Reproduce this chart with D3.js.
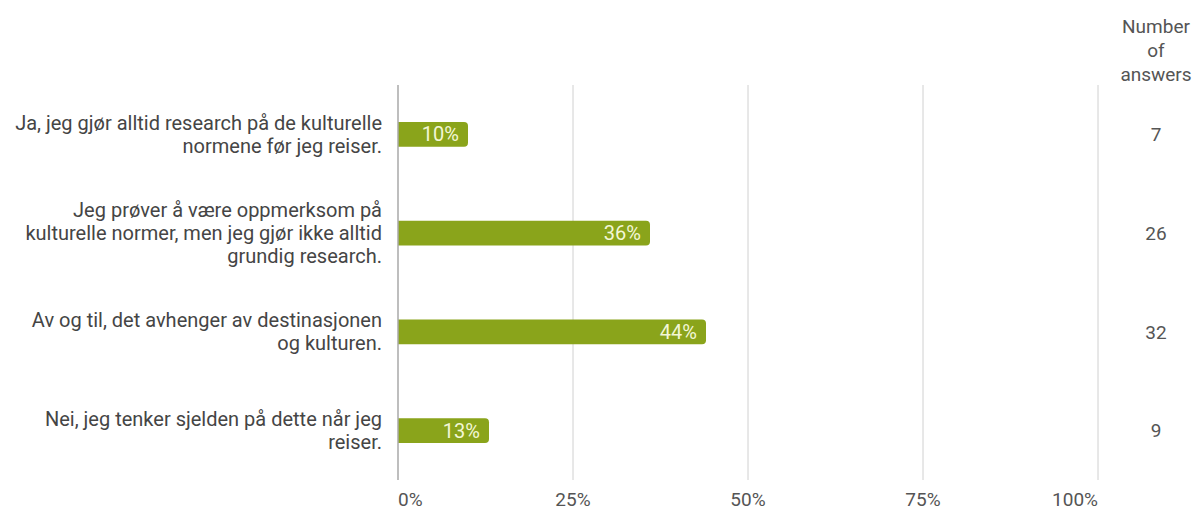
<!DOCTYPE html>
<html>
<head>
<meta charset="utf-8">
<script src="https://cdn.jsdelivr.net/npm/d3@7"></script>
<style>
  html, body { margin: 0; padding: 0; background: #fff; }
  svg { display: block; font-family: Roboto, "Noto Sans", sans-serif; }
</style>
</head>
<body>
<svg id="chart" width="1198" height="510"></svg>
<script>
// Survey answers: share of respondents and count per option
const categories = [
  ["Ja, jeg gjør alltid research på de kulturelle", "normene før jeg reiser."],
  ["Jeg prøver å være oppmerksom på", "kulturelle normer, men jeg gjør ikke alltid", "grundig research."],
  ["Av og til, det avhenger av destinasjonen", "og kulturen."],
  ["Nei, jeg tenker sjelden på dette når jeg", "reiser."]
];
const shares = [10, 36, 44, 13];
const counts = [7, 26, 32, 9];
const tickValues = [0, 25, 50, 75, 100];
const tickLabels = ["0%", "25%", "50%", "75%", "100%"];
const countHeader = ["Number", "of", "answers"];

const svg = d3.select("#chart");
const plot = { left: 398, right: 1098, top: 85, bottom: 480 };

const x = d3.scaleLinear().domain([0, 100]).range([plot.left, plot.right]);
const y = d3.scaleBand().domain(d3.range(categories.length))
  .range([plot.top, plot.bottom]).paddingInner(0.747).paddingOuter(0.3735);

// vertical gridlines
svg.append("g").selectAll("line").data(tickValues.slice(1)).join("line")
  .attr("x1", d => x(d)).attr("x2", d => x(d))
  .attr("y1", plot.top).attr("y2", plot.bottom)
  .attr("stroke", "#d0d0d0").attr("stroke-width", 1);

// bars with rounded right end
const r = 4;
svg.append("g").selectAll("path").data(shares).join("path")
  .attr("d", (d, i) => {
    const x0 = x(0), x1 = x(d), y0 = y(i), h = y.bandwidth();
    return `M${x0},${y0} H${x1 - r} Q${x1},${y0} ${x1},${y0 + r} V${y0 + h - r} Q${x1},${y0 + h} ${x1 - r},${y0 + h} H${x0} Z`;
  })
  .attr("fill", "#8aa41b");

// value labels inside the bars
svg.append("g").selectAll("text").data(shares).join("text")
  .attr("x", d => x(d) - 9)
  .attr("y", (d, i) => y(i) + y.bandwidth() / 2)
  .attr("dy", "0.35em")
  .attr("text-anchor", "end")
  .attr("font-size", 20)
  .attr("fill", "#f3f7d6")
  .text(d => d + "%");

// zero axis line
svg.append("line")
  .attr("x1", x(0)).attr("x2", x(0))
  .attr("y1", plot.top).attr("y2", plot.bottom)
  .attr("stroke", "#a8a8a8").attr("stroke-width", 1.5);

// category labels
const lineH = 23;
const labelG = svg.append("g");
categories.forEach((lines, i) => {
  const cy = y(i) + y.bandwidth() / 2;
  const start = cy - (lines.length - 1) * lineH / 2;
  labelG.append("text")
    .attr("text-anchor", "end")
    .attr("font-size", 20)
    .attr("fill", "#454545")
    .selectAll("tspan").data(lines).join("tspan")
    .attr("x", 382)
    .attr("y", (d, j) => start + j * lineH)
    .attr("dy", "0.35em")
    .text(d => d);
});

// x tick labels
svg.append("g").selectAll("text").data(tickValues).join("text")
  .attr("x", d => x(d))
  .attr("y", 499)
  .attr("dy", "0.35em")
  .attr("text-anchor", (d, i) => i === 0 ? "start" : (i === tickValues.length - 1 ? "end" : "middle"))
  .attr("font-size", 19)
  .attr("fill", "#555")
  .text((d, i) => tickLabels[i]);

// count column
svg.append("text")
  .attr("text-anchor", "middle")
  .attr("font-size", 19)
  .attr("fill", "#555")
  .selectAll("tspan").data(countHeader).join("tspan")
  .attr("x", 1156)
  .attr("y", (d, j) => 26 + j * 24)
  .attr("dy", "0.35em")
  .text(d => d);

svg.append("g").selectAll("text").data(counts).join("text")
  .attr("x", 1156)
  .attr("y", (d, i) => y(i) + y.bandwidth() / 2)
  .attr("dy", "0.35em")
  .attr("text-anchor", "middle")
  .attr("font-size", 19)
  .attr("fill", "#555")
  .text(d => d);
</script>
</body>
</html>
